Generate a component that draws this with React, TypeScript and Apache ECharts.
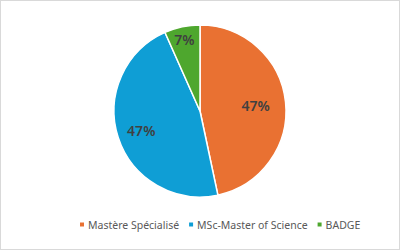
import React, { useEffect, useRef } from "react";
import * as echarts from "echarts";

const categories = ["Mastère Spécialisé", "MSc-Master of Science", "BADGE"];
const values = [7, 7, 1];
const colors = ["#E97132", "#0F9ED5", "#4EA72E"];
const labelShifts = [
  [10, -1],
  [-15, 5],
  [-6, -27],
];

export default function App() {
  const ref = useRef<HTMLDivElement>(null);
  useEffect(() => {
    if (!ref.current) return;
    const chart = echarts.init(ref.current, undefined, { renderer: "svg" });
    const total = values.reduce((a, b) => a + b, 0);
    chart.setOption({
      animation: false,
      backgroundColor: "#FFFFFF",
      legend: {
        bottom: 14,
        left: 72,
        icon: "rect",
        itemWidth: 6,
        itemHeight: 6,
        itemGap: 8,
        textStyle: { color: "#595959", fontSize: 10.5, fontFamily: "Noto Sans", padding: [0, 0, 0, -2] },
        data: categories,
      },
      series: [
        {
          type: "pie",
          center: [199, 110],
          radius: [0, 86],
          startAngle: 90,
          clockwise: true,
          itemStyle: { borderColor: "#FFFFFF", borderWidth: 1.5 },
          label: {
            show: true,
            position: "inside",
            color: "#404040",
            fontSize: 14,
            fontWeight: 600,
            fontFamily: "Noto Sans",
            formatter: (p: any) => Math.round((p.value / total) * 100) + "%",
          },
          labelLine: { show: false },
          labelLayout: (p: any) => ({ dx: labelShifts[p.dataIndex][0], dy: labelShifts[p.dataIndex][1] }),
          data: categories.map((c, i) => ({ name: c, value: values[i], itemStyle: { color: colors[i] } })),
        },
      ],
    });
    return () => chart.dispose();
  }, []);
  return (
    <div
      ref={ref}
      style={{
        position: "fixed",
        left: 0,
        top: 0,
        width: 400,
        height: 250,
        boxSizing: "border-box",
        border: "1px solid #D9D9D9",
      }}
    />
  );
}
